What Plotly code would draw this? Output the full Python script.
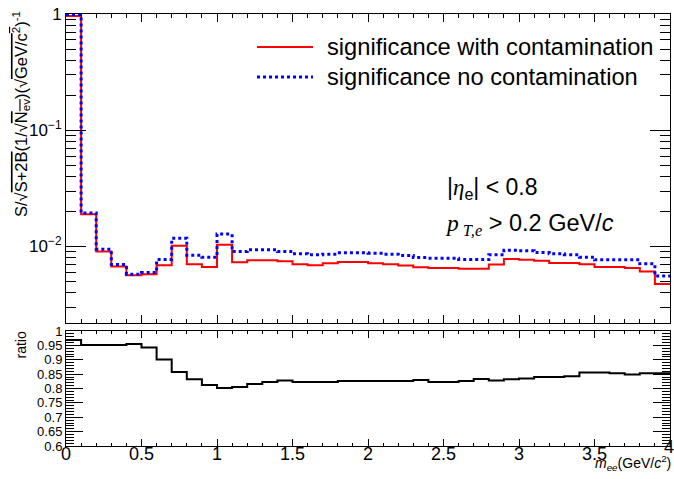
import numpy as np
import plotly.graph_objects as go

# m_ee binning (GeV/c^2): 40 bins of 0.1 from 0 to 4
bin_edges = [round(0.1 * i, 1) for i in range(41)]

# significance per bin, with hadron contamination
sig_with_contamination = [
    0.960, 0.0190, 0.00906, 0.00672, 0.00566, 0.00578, 0.00691, 0.01014, 0.00705, 0.00668,
    0.01035, 0.00734, 0.00763, 0.00763, 0.00748, 0.00705, 0.00691, 0.00720, 0.00738, 0.00738,
    0.00720, 0.00705, 0.00686, 0.00664, 0.00655, 0.00655, 0.00643, 0.00643, 0.00700, 0.00780,
    0.00768, 0.00753, 0.00723, 0.00723, 0.00705, 0.00668, 0.00668, 0.00655, 0.00609, 0.00477,
]

# significance per bin, pure electron sample
sig_no_contamination = [
    0.990, 0.0194, 0.00949, 0.00700, 0.00578, 0.00597, 0.00773, 0.01180, 0.00843, 0.00810,
    0.01280, 0.00906, 0.00937, 0.00937, 0.00906, 0.00865, 0.00848, 0.00859, 0.00883, 0.00883,
    0.00877, 0.00859, 0.00836, 0.00804, 0.00794, 0.00794, 0.00773, 0.00773, 0.00848, 0.00930,
    0.00918, 0.00888, 0.00865, 0.00848, 0.00810, 0.00768, 0.00768, 0.00768, 0.00710, 0.00559,
]

# ratio with / without contamination
sig_ratio = [
    0.969, 0.951, 0.951, 0.951, 0.955, 0.943, 0.901, 0.857, 0.832, 0.812,
    0.802, 0.805, 0.816, 0.823, 0.828, 0.823, 0.823, 0.823, 0.826, 0.826,
    0.826, 0.826, 0.826, 0.830, 0.823, 0.823, 0.826, 0.833, 0.828, 0.832,
    0.835, 0.840, 0.840, 0.843, 0.856, 0.856, 0.853, 0.849, 0.853, 0.853,
]

top_tick_vals = [0.01, 0.1, 1]
top_tick_text = ["10<sup>\u22122</sup>", "10<sup>\u22121</sup>", "1"]
ratio_tick_vals = [0.6, 0.65, 0.7, 0.75, 0.8, 0.85, 0.9, 0.95, 1.0]
ratio_tick_text = ["0.6", "0.65", "0.7", "0.75", "0.8", "0.85", "0.9", "0.95", "1"]
mass_tick_vals = [0, 0.5, 1, 1.5, 2, 2.5, 3, 3.5]
mass_tick_text = ["0", "0.5", "1", "1.5", "2", "2.5", "3", "3.5"]
last_mass_label = "4"

W, H = 674, 479
ML, MR, MT, MB = 66, 4, 14, 33
PW, PH = W - ML - MR, H - MT - MB


def px(xp):
    return (xp - ML) / PW


def py(yp):
    return (H - MB - yp) / PH


def step(vals):
    return list(vals) + [vals[-1]]


FONT = "Liberation Sans, Arial, Helvetica, sans-serif"

fig = go.Figure()
fig.add_trace(go.Scatter(
    x=bin_edges, y=step(sig_with_contamination), mode="lines", line_shape="hv",
    line=dict(color="#ff0000", width=2), name="significance with contamination",
    xaxis="x", yaxis="y"))
fig.add_trace(go.Scatter(
    x=bin_edges, y=step(sig_no_contamination), mode="lines", line_shape="hv",
    line=dict(color="#0000ff", width=3, dash="dot"), name="significance no contamination",
    xaxis="x", yaxis="y"))
fig.add_trace(go.Scatter(
    x=bin_edges, y=step(sig_ratio), mode="lines", line_shape="hv",
    line=dict(color="#000000", width=2), name="ratio",
    xaxis="x2", yaxis="y2"))

top_lo = (H - MB - 323) / PH
bot_hi = (H - MB - 331) / PH

minor_log = [k * d for d in (0.001, 0.01, 0.1) for k in range(2, 10) if k * d >= 0.0022]

axis_common = dict(showline=True, linecolor="black", linewidth=1, mirror="allticks",
                   ticks="inside", tickcolor="black", showgrid=False, zeroline=False)

fig.update_layout(
    width=W, height=H,
    margin=dict(l=ML, r=MR, t=MT, b=MB),
    paper_bgcolor="white", plot_bgcolor="white",
    showlegend=False,
    font=dict(family=FONT, color="black"),
    xaxis=dict(axis_common, domain=[0, 1], anchor="y", range=[0, 4],
               tickmode="linear", tick0=0, dtick=0.5, ticklen=8, showticklabels=False,
               minor=dict(ticks="inside", dtick=0.1, ticklen=4, tickcolor="black")),
    yaxis=dict(axis_common, domain=[top_lo, 1], anchor="x", type="log",
               range=[np.log10(0.0022), 0],
               tickmode="array", tickvals=top_tick_vals, ticktext=top_tick_text,
               ticklen=20, tickfont=dict(size=17, family=FONT),
               minor=dict(ticks="inside", tickmode="array", tickvals=minor_log,
                          ticklen=10, tickcolor="black")),
    xaxis2=dict(axis_common, domain=[0, 1], anchor="y2", range=[0, 4],
                tickmode="array", tickvals=mass_tick_vals, ticktext=mass_tick_text,
                ticklen=7, tickfont=dict(size=18, family=FONT), ticklabelstandoff=-9,
                minor=dict(ticks="inside", tickmode="linear", tick0=0, dtick=0.1,
                           ticklen=3, tickcolor="black")),
    yaxis2=dict(axis_common, domain=[0, bot_hi], anchor="x2", range=[0.6, 1.0],
                tickmode="array", tickvals=ratio_tick_vals, ticktext=ratio_tick_text,
                ticklen=17, tickfont=dict(size=13, family=FONT),
                minor=dict(ticks="inside", dtick=0.01, tick0=0.6, ticklen=8,
                           tickcolor="black")),
)

# major tick at the upper end of the mass axis (label sits raised, beside the title)
fig.add_shape(type="line", xref="x2", yref="paper", x0=4, x1=4, y0=0, y1=7 / PH,
              line=dict(color="black", width=1))
fig.add_annotation(text=last_mass_label, xref="x2", yref="paper", x=4, y=py(447),
                   xshift=-1, xanchor="center", yanchor="middle", showarrow=False,
                   font=dict(size=18, family=FONT, color="black"))

# legend drawn by hand, ROOT style with long line samples
fig.add_shape(type="line", xref="paper", yref="paper",
              x0=px(257), x1=px(313), y0=py(47), y1=py(47),
              line=dict(color="#ff0000", width=2))
fig.add_shape(type="line", xref="paper", yref="paper",
              x0=px(257), x1=px(313), y0=py(77), y1=py(77),
              line=dict(color="#0000ff", width=3, dash="dot"))
for text, ypix in (("significance with contamination", 47),
                   ("significance no contamination", 77)):
    fig.add_annotation(text=text, xref="paper", yref="paper",
                       x=px(325), y=py(ypix), xanchor="left", yanchor="middle",
                       showarrow=False, font=dict(size=23.7, family=FONT, color="black"))

# kinematic cuts
fig.add_annotation(
    text="|<span style='font-family:Liberation Serif'><i>\u03b7</i></span><sub>e</sub>| &lt; 0.8",
    xref="paper", yref="paper", x=px(445), y=py(188), xanchor="left", yanchor="middle",
    showarrow=False, font=dict(size=23, family=FONT, color="black"))
fig.add_annotation(
    text="<span style='font-family:Liberation Serif'><i>p</i><sub>&nbsp;<i>T,e</i></sub></span>"
         " &gt; 0.2 GeV/<i>c</i>",
    xref="paper", yref="paper", x=px(443), y=py(225), xanchor="left", yanchor="middle",
    showarrow=False, font=dict(size=23.5, family=FONT, color="black"))

# axis titles
ov = "<span style='text-decoration:overline'>{}</span>"
ytitle = ("S/\u221a" + ov.format("S+2B") + "(1/\u221a" + ov.format("N<sub>ev</sub>") +
          ")(\u221a" + ov.format("GeV/c<sup>2</sup>") + ")<sup>-1</sup>")
fig.add_annotation(text=ytitle, xref="paper", yref="paper", x=px(21), y=py(9),
                   xanchor="center", yanchor="top", textangle=-90, showarrow=False,
                   font=dict(size=16.5, family=FONT, color="black"))
fig.add_annotation(text="ratio", xref="paper", yref="paper", x=px(21), y=py(330),
                   xanchor="center", yanchor="top", textangle=-90, showarrow=False,
                   font=dict(size=14, family=FONT, color="black"))
fig.add_annotation(text="<i>m</i><sub><i>ee</i></sub>(GeV/<i>c</i><sup>2</sup>)",
                   xref="paper", yref="paper", x=px(673), y=py(463),
                   xanchor="right", yanchor="middle", showarrow=False,
                   font=dict(size=14, family=FONT, color="black"))

fig.write_html("out.html")
